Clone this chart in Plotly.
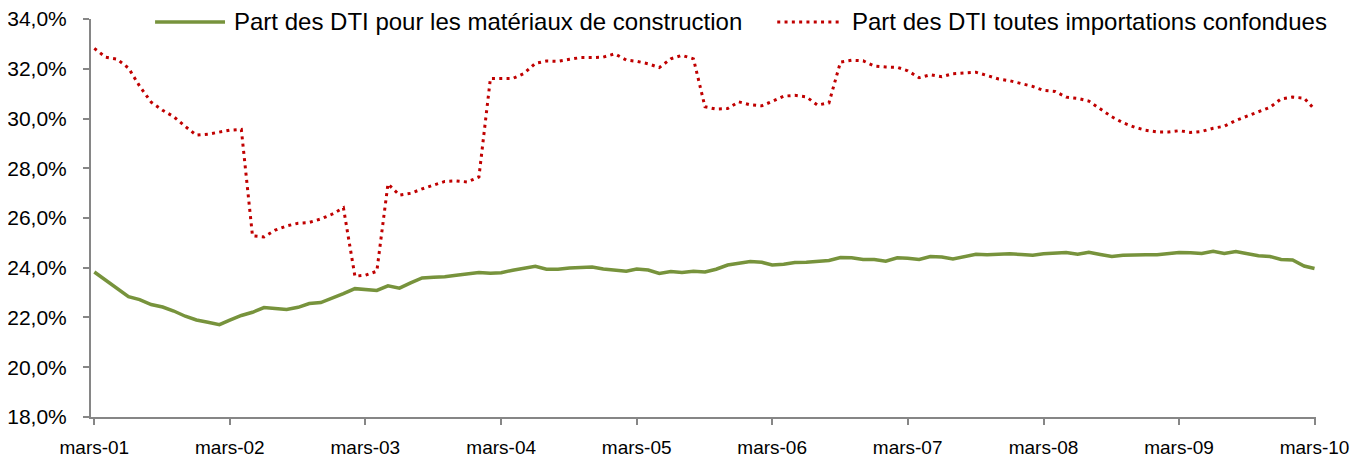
import pandas as pd
import plotly.graph_objects as go

# Monthly dates, March 2001 -> March 2010
months = pd.date_range("2001-03-01", "2010-03-01", freq="MS")

materiaux = [
    23.83, 23.50, 23.16, 22.84, 22.72, 22.52, 22.42, 22.26, 22.05, 21.90,
    21.81, 21.71, 21.89, 22.08, 22.21, 22.40, 22.36, 22.32, 22.41, 22.56,
    22.60, 22.76, 22.96, 23.16, 23.13, 23.09, 23.27, 23.18, 23.39, 23.59,
    23.62, 23.64, 23.70, 23.77, 23.81, 23.78, 23.80, 23.90, 23.97, 24.06,
    23.94, 23.94, 23.99, 24.01, 24.03, 23.95, 23.91, 23.86, 23.95, 23.91,
    23.77, 23.85, 23.81, 23.86, 23.83, 23.94, 24.11, 24.18, 24.25, 24.22,
    24.11, 24.14, 24.21, 24.22, 24.27, 24.29, 24.41, 24.40, 24.33, 24.33,
    24.26, 24.40, 24.38, 24.33, 24.45, 24.43, 24.35, 24.45, 24.54, 24.52,
    24.53, 24.56, 24.53, 24.50, 24.56, 24.58, 24.61, 24.54, 24.62, 24.53,
    24.45, 24.50, 24.52, 24.52, 24.52, 24.58, 24.61, 24.60, 24.57, 24.66,
    24.57, 24.65, 24.56, 24.48, 24.45, 24.33, 24.31, 24.07, 23.97,
]

toutes = [
    32.82, 32.46, 32.39, 32.03, 31.30, 30.66, 30.33, 30.07, 29.68, 29.33,
    29.37, 29.44, 29.53, 29.56, 25.28, 25.24, 25.51, 25.68, 25.79, 25.82,
    25.96, 26.15, 26.41, 23.66, 23.70, 23.86, 27.37, 26.92, 26.99, 27.17,
    27.33, 27.47, 27.49, 27.45, 27.65, 31.61, 31.61, 31.61, 31.81, 32.22,
    32.31, 32.30, 32.38, 32.45, 32.45, 32.47, 32.60, 32.35, 32.30, 32.20,
    32.05, 32.40, 32.54, 32.40, 30.47, 30.38, 30.40, 30.67, 30.55, 30.51,
    30.69, 30.90, 30.93, 30.87, 30.54, 30.63, 32.27, 32.34, 32.32, 32.11,
    32.07, 32.06, 31.92, 31.64, 31.76, 31.68, 31.80, 31.84, 31.86, 31.73,
    31.59, 31.52, 31.42, 31.29, 31.13, 31.09, 30.86, 30.81, 30.70, 30.37,
    30.07, 29.83, 29.65, 29.53, 29.46, 29.46, 29.51, 29.44, 29.48, 29.61,
    29.69, 29.92, 30.10, 30.28, 30.45, 30.79, 30.86, 30.82, 30.37,
]

tick_dates = pd.date_range("2001-03-01", "2010-03-01", freq="12MS")
tick_labels = ["mars-01", "mars-02", "mars-03", "mars-04", "mars-05",
               "mars-06", "mars-07", "mars-08", "mars-09", "mars-10"]
y_ticks = [18, 20, 22, 24, 26, 28, 30, 32, 34]
y_tick_labels = [f"{v:.1f}%".replace(".", ",") for v in y_ticks]

name_mat = "Part des DTI pour les matériaux de construction"
name_tout = "Part des DTI toutes importations confondues"

FONT = "Liberation Sans, Arial, sans-serif"
AXIS_COLOR = "#868686"
GREEN = "#77933C"
RED = "#C00000"
RED_DASH = "3px,4.3px"

fig = go.Figure()
fig.add_trace(go.Scatter(
    x=months, y=materiaux, mode="lines", name=name_mat,
    line=dict(color=GREEN, width=3.5), showlegend=False,
))
fig.add_trace(go.Scatter(
    x=months, y=toutes, mode="lines", name=name_tout,
    line=dict(color=RED, width=3, dash=RED_DASH), showlegend=False,
))

# Legend drawn by hand (line samples + labels) along the top of the plot
LEG_Y = 0.9925
legend_items = [
    (name_mat, GREEN, "solid", 3.5, 0.0523, 0.1094, 0.1150),
    (name_tout, RED, RED_DASH, 3, 0.5602, 0.6117, 0.6195),
]
for label, color, dash, width, x0, x1, xt in legend_items:
    fig.add_shape(type="line", xref="paper", yref="paper",
                  x0=x0, x1=x1, y0=LEG_Y, y1=LEG_Y,
                  line=dict(color=color, width=width, dash=dash))
    fig.add_annotation(text=label, xref="paper", yref="paper",
                       x=xt, y=LEG_Y, xanchor="left", yanchor="middle",
                       showarrow=False,
                       font=dict(family=FONT, size=24, color="#000000"))

# The page body adds an 8px margin, so the figure is 8px smaller each way
fig.update_layout(
    width=1361, height=457,
    margin=dict(l=83, r=53, t=11, b=48, pad=0),
    paper_bgcolor="white", plot_bgcolor="white",
    font=dict(family=FONT, size=19, color="#000000"),
    showlegend=False,
)

fig.update_xaxes(
    type="date", automargin=False,
    range=["2001-02-20", "2010-03-05"],
    tickvals=tick_dates, ticktext=tick_labels,
    showgrid=False, zeroline=False,
    showline=True, linecolor=AXIS_COLOR, linewidth=2,
    ticks="outside", ticklen=6, tickwidth=2, tickcolor=AXIS_COLOR,
    ticklabelstandoff=6, ticklabeloverflow="allow",
    tickfont=dict(family=FONT, size=19, color="#000000"),
)
fig.update_yaxes(
    automargin=False,
    range=[17.999, 34.001],
    tickvals=y_ticks, ticktext=y_tick_labels,
    showgrid=False, zeroline=False,
    showline=True, linecolor=AXIS_COLOR, linewidth=2,
    ticks="outside", ticklen=6, tickwidth=2, tickcolor=AXIS_COLOR,
    ticklabelstandoff=12, ticklabeloverflow="allow",
    tickfont=dict(family=FONT, size=21, color="#000000"),
)

fig.write_html("out.html")
